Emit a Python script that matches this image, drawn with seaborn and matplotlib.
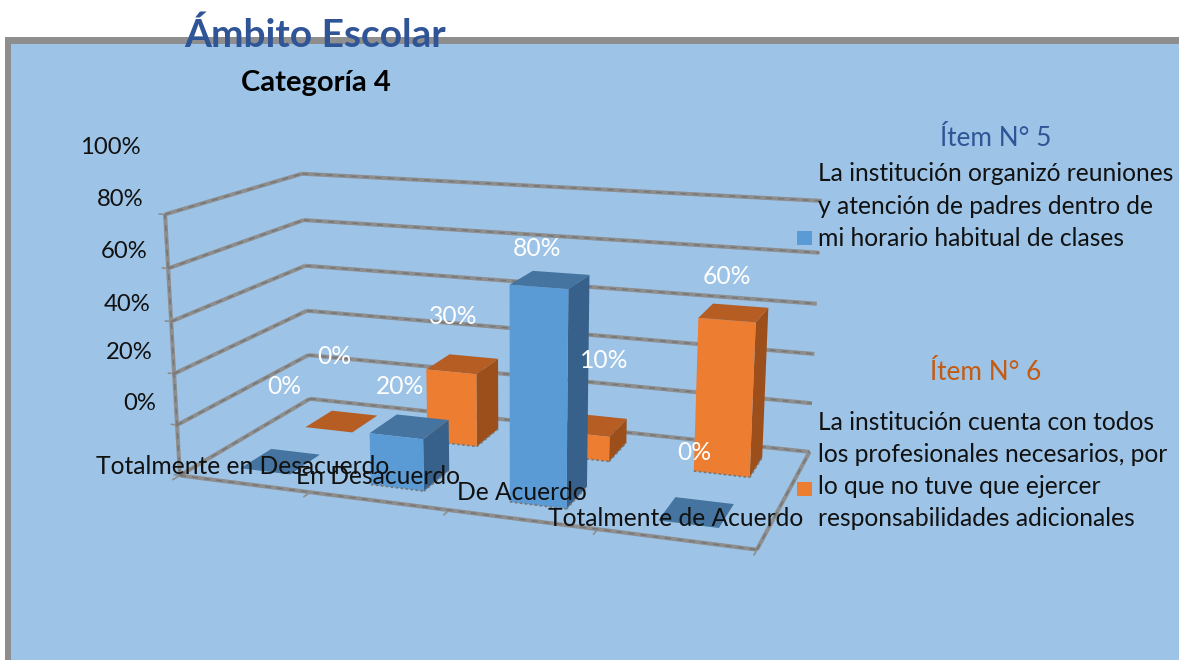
import numpy as np
import seaborn as sns
import matplotlib
matplotlib.use('Agg')
import matplotlib.pyplot as plt
from matplotlib.patches import Rectangle
from mpl_toolkits.mplot3d.art3d import Line3DCollection

# the values of the chart
categories = ['Totalmente en Desacuerdo', 'En Desacuerdo', 'De Acuerdo', 'Totalmente de Acuerdo']
item5 = [0, 20, 80, 0]
item6 = [0, 30, 10, 60]
yticks = [0, 20, 40, 60, 80, 100]
title = 'Ámbito Escolar'
subtitle = 'Categoría 4'
legend5_head = 'Ítem N° 5'
legend6_head = 'Ítem N° 6'
legend5 = ['La institución organizó reuniones', 'y atención de padres dentro de', 'mi horario habitual de clases']
legend6 = ['La institución cuenta con todos', 'los profesionales necesarios, por', 'lo que no tuve que ejercer', 'responsabilidades adicionales']

W, H = 1179, 660
BLUE, ORANGE = sns.color_palette(['#5B9BD5', '#ED7D31'])
BLUE_TOP, ORANGE_TOP = '#44749F', '#B55D22'
BLUE_SIDE, ORANGE_SIDE = '#37618A', '#9C4F1B'
NONE = (0, 0, 0, 0)
GRID = '#8e8e8e'
TEXT_SIZE = 17.7

sns.set_theme(style='white')
plt.rcParams['font.family'] = ['Lato', 'DejaVu Sans']

fig = plt.figure(figsize=(W / 100, H / 100), dpi=100, facecolor='white')

def fx(px): # pixel of the reference to figure fraction
    return px / W

def fy(py):
    return 1 - py / H

def label(px, py, s, **kw):
    kw.setdefault('ha', 'center')
    kw.setdefault('va', 'center')
    fig.text(fx(px), fy(py), s, zorder=10, **kw)

# the frame, only the top and left are visible
fig.add_artist(Rectangle((fx(5), 0), 1, fy(37), transform=fig.transFigure, fc=GRID, ec='none', zorder=-2))
fig.add_artist(Rectangle((fx(11), 0), 1, fy(44), transform=fig.transFigure, fc='#9DC3E6', ec='none', zorder=-1))

ax = fig.add_axes([0, 0, 1, 1], projection='3d')
ax.apply_aspect = lambda position=None: None # keep the axes over the whole figure
ax.set_axis_off()
ax.patch.set_visible(False)
ax.computed_zorder = False

# camera of the excel 3d chart, fitted on the corners of the walls
# x = category, y = series depth 0..1, z = percent
world = [(0, 0, 0), (4, 0, 0), (4, 1, 0), (0, 1, 0), (0, 0, 100), (0, 1, 100), (4, 1, 100),
         (0, 0, 20), (0, 0, 60), (4, 1, 40), (4, 1, 80)]
pixels = [(179, 476), (757, 549), (810, 452), (309, 398), (164, 214), (303, 174), (822, 200),
          (178, 425), (172, 322), (815, 355), (818, 253)]
view = ax.transData.inverted().transform([(p[0], H - p[1]) for p in pixels])
rows = []
for (X, Y, Z), (u, v) in zip(world, view):
    rows.append([X, Y, Z, 1, 0, 0, 0, 0, -u * X, -u * Y, -u * Z, -u])
    rows.append([0, 0, 0, 0, X, Y, Z, 1, -v * X, -v * Y, -v * Z, -v])
P = np.linalg.svd(np.array(rows))[2][-1].reshape(3, 4)
P = P / P[2, 3]
M = np.array([P[0], P[1], [-0.02, 1, -0.005, 0.5], P[2]])
ax.get_proj = lambda: M
ax.M = M

# walls and floor, made of two point segments
def segments(xs, ys, zs):
    pts = list(zip(xs, ys, zs))
    return [[a, b] for a, b in zip(pts[:-1], pts[1:])]

wall = []
for t in yticks:
    wall += segments([0, 0, 4], [0, 1, 1], [t, t, t])
wall += segments([0, 0], [0, 0], [0, 100])
wall += segments([0, 4, 4], [0, 0, 1], [0, 0, 0])

ticks = [[(-0.05, 0, t), (0, 0, t)] for t in yticks]
ticks += [[(i, -0.05, 0), (i, 0, 0)] for i in range(len(categories) + 1)]

ax.add_collection3d(Line3DCollection(ticks, colors=GRID, linewidths=1.2, zorder=1))
ax.add_collection3d(Line3DCollection(wall, colors=GRID, linewidths=2.9, zorder=1.1))
ax.add_collection3d(Line3DCollection(wall, colors='#767676', linewidths=1.1, linestyles=[(0, (4, 4))], zorder=1.2))

# bars, back row first
bar_w = 0.39
bar_d = 0.23
def draw_row(values, y0, shift, front, top, side, z):
    for i, val in enumerate(values):
        x0 = i + 0.5 - bar_w / 2 + shift
        # bottom, top, front, back, left, right
        ax.bar3d(x0, y0, 0, bar_w, bar_d, val, color=[NONE, top, front, NONE, NONE, side],
                 shade=False, linewidth=0, edgecolor='none', zorder=z + i * 0.01)
        if val > 0:
            edge = segments([x0, x0 + bar_w, x0 + bar_w], [y0, y0, y0 + bar_d], [0, 0, 0])
            ax.add_collection3d(Line3DCollection(edge, colors='#777777', linewidths=1.2,
                                                 linestyles=[(0, (1.5, 1.5))], zorder=z + i * 0.01 + 0.005))

draw_row(item6, 0.65, 0.008, ORANGE, ORANGE_TOP, ORANGE_SIDE, 3)
draw_row(item5, 0.14, 0.013, BLUE, BLUE_TOP, BLUE_SIDE, 4)

# titles
label(315, 35, title, color='#2F5597', fontsize=28, fontweight='bold')
label(316, 83, subtitle, color='black', fontsize=21, fontweight='bold')

# y tick labels
tick_x = [156, 153, 150, 147, 144, 141]
tick_y = [403, 353, 304, 252, 200, 148]
for t, px, py in zip(yticks, tick_x, tick_y):
    label(px, py, '{}%'.format(t), ha='right', fontsize=17.2, color='#111111')

# category labels
cat_x = [243, 378, 522, 676]
cat_y = [467, 476, 492, 518]
for c, px, py in zip(categories, cat_x, cat_y):
    label(px, py, c, fontsize=TEXT_SIZE, color='#111111')

# data labels
lab5 = [(284, 386), (400, 387), (537, 249), (694, 452)]
lab6 = [(334, 356), (453, 316), (604, 361), (727, 277)]
for val, (px, py) in zip(item5 + item6, lab5 + lab6):
    label(px, py, '{}%'.format(val), color='white', fontsize=TEXT_SIZE)

# legend
label(996, 139, legend5_head, color='#2F5597', fontsize=18.8)
for line, py in zip(legend5, [173, 206, 238]):
    label(818, py, line, ha='left', fontsize=TEXT_SIZE, color='#111111')
label(986, 372, legend6_head, color='#C55A11', fontsize=18.8)
for line, py in zip(legend6, [423, 455, 487, 519]):
    label(818, py, line, ha='left', fontsize=TEXT_SIZE, color='#111111')
fig.add_artist(Rectangle((fx(797), fy(245)), 15 / W, 14 / H, transform=fig.transFigure, fc=BLUE, ec='none', zorder=9))
fig.add_artist(Rectangle((fx(797), fy(496)), 15 / W, 14 / H, transform=fig.transFigure, fc=ORANGE, ec='none', zorder=9))

fig.savefig('out.png', dpi=100)
